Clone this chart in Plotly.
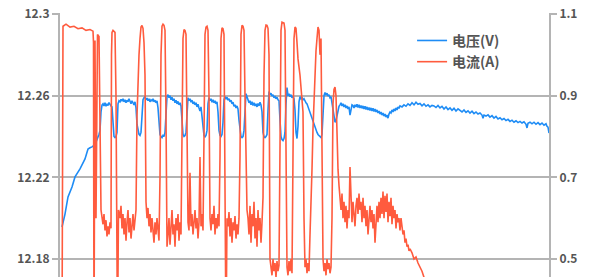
import plotly.graph_objects as go

# voltage samples (time index, V)
voltage_points = [
(2,12.1957),(5,12.2020),(8,12.2104),(12,12.2153),(15,12.2202),(20,12.2241),(25,12.2290),(28,12.2339),(30,12.2345),(32,12.2349),(35,12.2360),(37,12.2380),(38,12.2398),
(39,12.2410),(40,12.2430),(41,12.2520),(42,12.2554),(43,12.2560),(44,12.2550),(45,12.2565),(46,12.2548),(47,12.2560),(48,12.2552),(49,12.2566),(50,12.2555),(51,12.2550),(52,12.2545),
(53,12.2440),(54,12.2400),(55,12.2395),(56,12.2400),(57,12.2420),
(58,12.2560),(59,12.2575),(60,12.2570),(61,12.2582),(62,12.2575),(63,12.2585),(64,12.2570),(65,12.2580),(66,12.2565),(67,12.2578),(68,12.2570),(69,12.2585),(70,12.2572),(71,12.2560),(72,12.2575),(73,12.2565),(74,12.2555),
(75,12.2570),(76,12.2540),(77,12.2460),(78,12.2420),(79,12.2410),(80,12.2405),(81,12.2420),(82,12.2500),(83,12.2580),
(84,12.2590),(85,12.2595),(86,12.2580),(87,12.2588),(88,12.2575),(89,12.2585),(90,12.2570),(91,12.2580),(92,12.2575),(93,12.2585),(94,12.2570),(95,12.2578),(96,12.2565),(97,12.2575),
(98,12.2540),(99,12.2450),(100,12.2410),(101,12.2400),(102,12.2395),(103,12.2405),(104,12.2400),(105,12.2420),(106,12.2500),(107,12.2595),
(108,12.2605),(109,12.2590),(110,12.2600),(111,12.2580),(112,12.2592),(113,12.2575),(114,12.2585),(115,12.2565),(116,12.2578),(117,12.2560),(118,12.2572),(119,12.2555),(120,12.2565),(121,12.2550),
(122,12.2480),(123,12.2410),(124,12.2400),(125,12.2405),(126,12.2420),(127,12.2520),
(128,12.2590),(129,12.2575),(130,12.2585),(131,12.2568),(132,12.2578),(133,12.2560),(134,12.2570),(135,12.2555),(136,12.2565),(137,12.2545),(138,12.2558),(139,12.2540),(140,12.2525),(141,12.2545),
(142,12.2500),(143,12.2430),(144,12.2405),(145,12.2398),(146,12.2405),(147,12.2430),(148,12.2560),
(149,12.2590),(150,12.2575),(151,12.2585),(152,12.2568),(153,12.2580),(154,12.2565),(155,12.2575),(156,12.2560),(157,12.2570),
(158,12.2520),(159,12.2430),(160,12.2405),(161,12.2400),(162,12.2410),(163,12.2470),(164,12.2580),
(165,12.2595),(166,12.2585),(167,12.2592),(168,12.2578),(169,12.2585),(170,12.2570),(171,12.2578),(172,12.2560),(173,12.2568),(174,12.2548),(175,12.2555),(176,12.2540),(177,12.2550),(178,12.2535),
(179,12.2480),(180,12.2420),(181,12.2400),(182,12.2395),(183,12.2400),(184,12.2430),(185,12.2560),(186,12.2610),(187,12.2595),
(188,12.2580),(189,12.2565),(190,12.2575),(191,12.2555),(192,12.2570),(193,12.2552),(194,12.2565),(195,12.2550),(196,12.2560),(197,12.2545),(198,12.2562),(199,12.2550),(200,12.2568),(201,12.2555),
(202,12.2520),(203,12.2420),(204,12.2400),(205,12.2395),(206,12.2400),(207,12.2410),(208,12.2530),
(209,12.2620),(210,12.2605),(211,12.2612),(212,12.2598),(213,12.2605),(214,12.2590),(215,12.2598),(216,12.2585),(217,12.2592),(218,12.2580),(219,12.2575),
(220,12.2480),(221,12.2400),(222,12.2385),(223,12.2380),(224,12.2390),(225,12.2420),(226,12.2560),
(227,12.2640),(228,12.2600),(229,12.2610),(230,12.2595),(231,12.2605),(232,12.2590),(233,12.2598),(234,12.2585),
(235,12.2530),(236,12.2420),(237,12.2390),(238,12.2450),(239,12.2570),
(240,12.2595),(241,12.2585),(242,12.2592),(243,12.2578),(244,12.2585),(245,12.2570),(246,12.2565),
(247,12.2560),(248,12.2545),(249,12.2530),(250,12.2515),(251,12.2505),(252,12.2490),(253,12.2470),(254,12.2455),(255,12.2440),(256,12.2430),(257,12.2420),(258,12.2410),(259,12.2405),(260,12.2400),(261,12.2395),(262,12.2410),
(263,12.2500),(264,12.2600),(265,12.2615),(266,12.2605),(267,12.2612),(268,12.2598),(269,12.2605),(270,12.2590),(271,12.2595),(272,12.2560),
(273,12.2520),(274,12.2480),(275,12.2470),(276,12.2478),(277,12.2500),(278,12.2530),(279,12.2548),(280,12.2555),
(281,12.2565),(282,12.2550),(283,12.2560),(284,12.2545),(285,12.2555),(286,12.2540),(287,12.2550),(288,12.2535),(289,12.2545),(290,12.2505),(291,12.2540),(292,12.2555),
(293,12.2552),(294,12.2540),(295,12.2555),(296,12.2545),(297,12.2558),(298,12.2542),(299,12.2555),(300,12.2540),(301,12.2552),(302,12.2538),(303,12.2550),(304,12.2535),(305,12.2548),(306,12.2532),(307,12.2545),(308,12.2530),(309,12.2542),(310,12.2528),(311,12.2540),(312,12.2525),(313,12.2538),(314,12.2522),(315,12.2535),(316,12.2520),(317,12.2530),(318,12.2515),(319,12.2525),(320,12.2510),(321,12.2520),(322,12.2505),(323,12.2515),(324,12.2500),(325,12.2510),(326,12.2495),(327,12.2505),(328,12.2490),(329,12.2510),(330,12.2520),(331,12.2515),(332,12.2530),(333,12.2520),(334,12.2535),(335,12.2525),(336,12.2540),(337,12.2530),(338,12.2545),(339,12.2538),(340,12.2550),
(342,12.2545),(344,12.2555),(346,12.2548),(348,12.2560),(350,12.2552),(352,12.2565),(354,12.2555),(356,12.2568),(358,12.2558),(360,12.2562),(362,12.2550),(364,12.2560),(366,12.2548),(368,12.2555),(370,12.2545),(372,12.2552),
(374,12.2550),(376,12.2542),(378,12.2552),(380,12.2540),(382,12.2548),(384,12.2535),(386,12.2545),(388,12.2532),(390,12.2540),(392,12.2528),(394,12.2538),(396,12.2525),(398,12.2535),(400,12.2528),(402,12.2520),(404,12.2530),(406,12.2518),(408,12.2526),(410,12.2515),(412,12.2524),(414,12.2512),(416,12.2520),(418,12.2510),(420,12.2515),(422,12.2505),(423,12.2490),(424,12.2505),(426,12.2500),(428,12.2506),(430,12.2495),(432,12.2502),(434,12.2490),(436,12.2498),(438,12.2486),(440,12.2492),(442,12.2482),(444,12.2488),(446,12.2478),(448,12.2484),(450,12.2474),(452,12.2480),(454,12.2470),(456,12.2477),(458,12.2468),(460,12.2474),(462,12.2466),(464,12.2472),(466,12.2460),(467,12.2442),(468,12.2465),(470,12.2470),(472,12.2462),(474,12.2470),(476,12.2460),(478,12.2468),(480,12.2458),(482,12.2466),(484,12.2455),(486,12.2462),(487,12.2450),(488,12.2446),(489,12.2417),
]

# current samples (time index, A)
current_points = [
(2,0.30),(3,1.070),(6,1.075),(10,1.068),(14,1.070),(18,1.064),(22,1.066),(26,1.060),(30,1.062),(33,1.058),(33.5,1.030),(34,0.30),(35,1.035),(36,0.60),(37.5,1.050),(39,1.045),(41,0.62),
(42,0.603),(43,0.585),(44,0.610),(45,0.570),(46,0.595),(47,0.555),(48,0.580),(49,0.560),(50,0.590),(51,0.575),
(51.5,1.00),(52,1.055),(53,1.060),(54,1.058),(55,1.055),(56,0.90),(57,0.30),(57.5,0.30),(58.5,0.62),
(60,0.600),(61,0.630),(62,0.575),(63,0.610),(64,0.560),(65,0.600),(66,0.545),(67,0.590),(68,0.620),(69,0.565),(70,0.600),(71,0.550),(72,0.585),(73,0.610),(74,0.570),(75,0.600),
(76,0.62),(77,0.85),(78,0.96),(79,1.00),(80,1.04),(81,1.068),(82,1.072),(83,1.065),(84,1.03),(85,0.95),(86,0.640),
(87,0.600),(88,0.625),(89,0.580),(90,0.610),(91,0.565),(92,0.600),(93,0.575),(94,0.540),(95,0.590),(96,0.560),(97,0.600),(98,0.575),(99,0.545),
(100,0.70),(101,1.00),(102,1.070),(103,1.075),(104,1.072),(105,1.060),(106,0.85),(107,0.53),
(108,0.560),(109,0.600),(110,0.535),(111,0.590),(112,0.620),(113,0.560),(114,0.585),(115,0.530),(116,0.600),(117,0.570),(118,0.610),(119,0.545),(120,0.590),(121,0.560),
(122,0.75),(123,1.040),(124,1.062),(125,1.060),(126,1.050),(127,0.80),(128,0.590),(129,0.570),(130,0.711),(131,0.580),
(132,0.610),(133,0.560),(134,0.595),(135,0.620),(136,0.575),(137,0.600),(138,0.550),(139,0.590),(140,0.750),(141,0.580),(142,0.610),(143,0.570),
(144,0.80),(145,1.050),(146,1.068),(147,1.070),(148,1.060),(149,0.90),(150,0.600),
(151,0.570),(152,0.610),(153,0.585),(154,0.630),(155,0.560),(156,0.600),(157,0.575),(158,0.610),(159,0.580),
(160,0.75),(161,1.040),(162,1.066),(163,1.064),(164,1.050),(165,0.70),(166,0.30),
(167,0.60),(168,0.580),(169,0.615),(170,0.555),(171,0.600),(172,0.540),(173,0.590),(174,0.570),(175,0.605),(176,0.550),(177,0.585),(178,0.560),(179,0.600),
(180,0.75),(181,1.050),(182,1.072),(183,1.070),(184,1.060),(185,0.90),(187,0.620),
(188,0.600),(189,0.560),(190,0.630),(191,0.540),(192,0.610),(193,0.580),(194,0.640),(195,0.550),(196,0.600),(197,0.530),(198,0.620),(199,0.570),(200,0.600),(201,0.540),(202,0.590),
(203,0.65),(204,0.95),(205,1.060),(206,1.073),(207,1.072),(208,1.065),(209,1.000),(210,0.50),
(211,0.48),(212,0.460),(213,0.500),(214,0.470),(215,0.490),(216,0.455),(217,0.495),(218,0.470),(219,0.485),
(220,0.70),(221,1.060),(222,1.080),(223,1.078),(224,1.078),(225,1.060),(226,0.70),(227,0.480),
(228,0.460),(229,0.495),(230,0.470),(231,0.500),(232,0.465),
(233,0.70),(234,1.040),(235,1.068),(236,1.065),(237,1.030),(238,0.990),(240,0.950),(242,0.900),(243,0.860),(244,0.60),(245,0.480),
(246,0.500),(247,0.465),(248,0.490),(249,0.470),
(250,0.560),(251,0.620),(252,0.720),(253,0.820),(254,0.900),(255,0.960),(256,1.010),(257,1.040),(258,1.068),(259,1.060),(260,1.00),(261,1.040),(262,0.820),(263,0.500),
(264,0.470),(265,0.490),(266,0.460),(267,0.500),(268,0.475),(269,0.490),(270,0.465),(271,0.480),
(272,0.60),(273,0.880),(274,0.915),(275,0.921),(276,0.900),(277,0.800),(278,0.720),(279,0.680),(280,0.650),
(281,0.620),(282,0.660),(283,0.600),(284,0.640),(285,0.590),(286,0.630),(287,0.575),(288,0.620),(289,0.600),(290,0.725),(291,0.620),(292,0.590),(293,0.640),(294,0.600),(295,0.580),(296,0.630),(297,0.650),(298,0.610),(299,0.660),(300,0.620),
(301,0.640),(302,0.590),(303,0.650),(304,0.600),(305,0.630),(306,0.580),(307,0.620),(308,0.560),(309,0.600),(310,0.630),(311,0.590),(312,0.620),(313,0.575),(314,0.610),(315,0.540),(316,0.600),(317,0.630),(318,0.590),(319,0.640),(320,0.600),
(321,0.650),(322,0.610),(323,0.665),(324,0.600),(325,0.655),(326,0.615),(327,0.660),(328,0.590),(329,0.640),(330,0.605),(331,0.650),(332,0.585),(333,0.630),(334,0.600),(335,0.620),(336,0.575),(337,0.610),(338,0.590),(339,0.600),(340,0.570),(341,0.600),
(342,0.580),(343,0.560),(344,0.570),(345,0.540),(346,0.550),(347,0.530),(348,0.535),(349,0.520),(350,0.525),(352,0.515),(354,0.500),(356,0.505),(358,0.490),(360,0.480),(362,0.470),(364,0.455),(366,0.440),(368,0.43),
]

voltage_t = [p[0] for p in voltage_points]
voltage_v = [p[1] for p in voltage_points]
current_t = [p[0] for p in current_points]
current_a = [p[1] for p in current_points]

left_ticks = [12.18, 12.22, 12.26, 12.3]
left_labels = ["12.18", "12.22", "12.26", "12.3"]
right_ticks = [0.5, 0.7, 0.9, 1.1]
right_labels = ["0.5", "0.7", "0.9", "1.1"]
series_names = ["电压(V)", "电流(A)"]

BLUE = "#1E8CF5"
RED = "#FF5B3E"
GRID = "#B4B4B4"
FONT = "Noto Sans CJK SC"
TXT = "#555555"

fig = go.Figure()
fig.add_trace(go.Scatter(x=voltage_t, y=voltage_v, mode="lines", name=series_names[0],
                         line=dict(color=BLUE, width=1.6), yaxis="y"))
fig.add_trace(go.Scatter(x=current_t, y=current_a, mode="lines", name=series_names[1],
                         line=dict(color=RED, width=1.6), yaxis="y2"))

fig.update_layout(
    width=600, height=277,
    margin=dict(l=60, r=51, t=13, b=0),
    paper_bgcolor="white", plot_bgcolor="white",
    font=dict(family=FONT, size=12, color=TXT, weight=600),
    showlegend=True,
    legend=dict(x=0.72, y=0.955, xanchor="left", yanchor="top", bgcolor="rgba(0,0,0,0)",
                font=dict(family=FONT, size=14, color=TXT, weight=600), tracegroupgap=0),
    xaxis=dict(range=[0, 489], showgrid=False, showticklabels=False, zeroline=False,
               showline=False, ticks=""),
    yaxis=dict(range=[12.3 - 263 / 2041.7, 12.3 + 1 / 2041.7], tickvals=left_ticks, ticktext=left_labels,
               showgrid=True, gridcolor=GRID, gridwidth=2, zeroline=False,
               showline=True, linecolor=GRID, linewidth=2,
               ticks="outside", ticklen=6, tickcolor=GRID, tickwidth=2,
               tickfont=dict(family=FONT, size=12, color=TXT, weight=600)),
    yaxis2=dict(range=[1.1 - 263 / 408.3, 1.1 + 1 / 408.3], tickvals=right_ticks, ticktext=right_labels,
                overlaying="y", side="right", showgrid=False, zeroline=False,
                showline=True, linecolor=GRID, linewidth=2,
                ticks="outside", ticklen=6, tickcolor=GRID, tickwidth=2,
                tickfont=dict(family=FONT, size=12, color=TXT, weight=600)),
)

fig.write_html("out.html")
